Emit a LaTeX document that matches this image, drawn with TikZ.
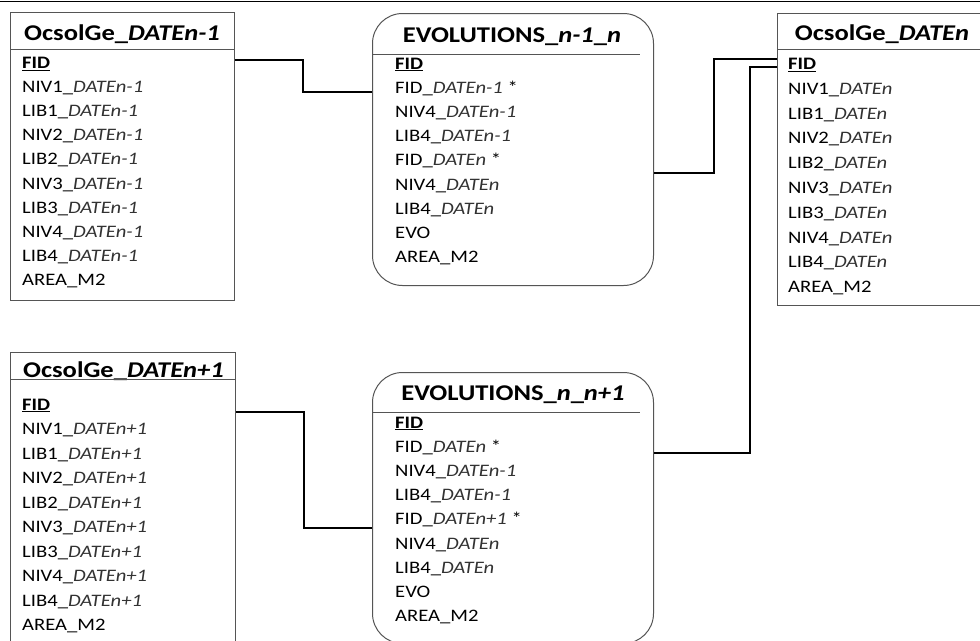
\documentclass[tikz,border=0pt]{standalone}
\usepackage{fontspec}
\setmainfont{Carlito}[FakeStretch=1.18]
\usepackage{xcolor}
\definecolor{tabgray}{RGB}{85,85,85}
\definecolor{txtgray}{RGB}{50,50,50}
\newcommand{\dat}[1]{{\color{txtgray}\itshape #1}}
\newcommand{\fid}{\underline{\textbf{FID}}}
\tikzset{
  % tabelle
  tbl/.style={draw=tabgray,line width=1pt,rectangle,anchor=north west,inner sep=0},
  evo box/.style={tbl,rounded corners=30pt},
  tbl rule/.style={draw=tabgray,line width=1pt},
  tbl title/.style={font=\fontsize{22.5}{27}\selectfont\bfseries,anchor=base,inner sep=0},
  field/.style={font=\fontsize{17.5}{24}\selectfont,anchor=base west,inner sep=0,text=black},
  % collegamenti
  link/.style={line width=1.8pt,black}
}
\begin{document}
\begin{tikzpicture}[x=1pt,y=-1pt]
  \useasboundingbox (0,0) rectangle (980,640);
  \clip (0,0) rectangle (980,640);
  \fill[white] (0,0) rectangle (980,640);
  \draw[line width=1.2pt] (0,1.5) -- (980,1.5);

  \node[tbl,minimum width=224,minimum height=288] (tA) at (10,12) {};
  \node[tbl title] (hA) at (122,40) {OcsolGe\_\textit{DATEn-1}};
  \draw[tbl rule] ([yshift=-37]tA.north west) -- ([yshift=-37]tA.north east);
  \foreach \t [count=\i from 0] in {\fid, NIV1\_\dat{DATEn-1}, LIB1\_\dat{DATEn-1},
      NIV2\_\dat{DATEn-1}, LIB2\_\dat{DATEn-1}, NIV3\_\dat{DATEn-1}, LIB3\_\dat{DATEn-1},
      NIV4\_\dat{DATEn-1}, LIB4\_\dat{DATEn-1}, AREA\_M2}
    \node[field] (fA\i) at (22,{68.5+24.1*\i}) {\t};

  \node[tbl,minimum width=225,minimum height=289] (tB) at (10,352) {};
  \node[tbl title] (hB) at (123.5,377) {OcsolGe\_\textit{DATEn+1}};
  \draw[tbl rule] ([yshift=-27]tB.north west) -- ([yshift=-27]tB.north east);
  \foreach \t [count=\i from 0] in {\fid, NIV1\_\dat{DATEn+1}, LIB1\_\dat{DATEn+1},
      NIV2\_\dat{DATEn+1}, LIB2\_\dat{DATEn+1}, NIV3\_\dat{DATEn+1}, LIB3\_\dat{DATEn+1},
      NIV4\_\dat{DATEn+1}, LIB4\_\dat{DATEn+1}, AREA\_M2}
    \node[field] (fB\i) at (22,{410+24.5*\i}) {\t};

  \node[tbl,minimum width=210,minimum height=292] (tC) at (777,13) {};
  \node[tbl title] (hC) at (882,40) {OcsolGe\_\textit{DATEn}};
  \draw[tbl rule] ([yshift=-36]tC.north west) -- ([yshift=-36]tC.north east);
  \foreach \t [count=\i from 0] in {\fid, NIV1\_\dat{DATEn}, LIB1\_\dat{DATEn},
      NIV2\_\dat{DATEn}, LIB2\_\dat{DATEn}, NIV3\_\dat{DATEn}, LIB3\_\dat{DATEn},
      NIV4\_\dat{DATEn}, LIB4\_\dat{DATEn}, AREA\_M2}
    \node[field] (fC\i) at (788,{69.5+24.8*\i}) {\t};

  \node[evo box,minimum width=281,minimum height=272] (evA) at (372,13) {};
  \node[tbl title] (heA) at (512,42) {EVOLUTIONS\_\textit{n-1}\_\textit{n}};
  \draw[tbl rule] ([yshift=-41]evA.north west) -- ++(268,0);
  \foreach \t [count=\i from 0] in {\fid, FID\_\dat{DATEn-1} *, NIV4\_\dat{DATEn-1},
      LIB4\_\dat{DATEn-1}, FID\_\dat{DATEn} *, NIV4\_\dat{DATEn}, LIB4\_\dat{DATEn},
      EVO, AREA\_M2}
    \node[field] (eA\i) at (395,{69+24.2*\i}) {\t};

  \node[evo box,minimum width=281,minimum height=271] (evB) at (372,372) {};
  \node[tbl title] (heB) at (513,400) {EVOLUTIONS\_\textit{n}\_\textit{n+1}};
  \draw[tbl rule] ([yshift=-40]evB.north west) -- ++(268,0);
  \foreach \t [count=\i from 0] in {\fid, FID\_\dat{DATEn} *, NIV4\_\dat{DATEn-1},
      LIB4\_\dat{DATEn-1}, FID\_\dat{DATEn+1} *, NIV4\_\dat{DATEn}, LIB4\_\dat{DATEn},
      EVO, AREA\_M2}
    \node[field] (eB\i) at (395,{428+24.2*\i}) {\t};

  \draw[link] ([yshift=-48]tA.north east) -- ++(68,0) |- ([yshift=-79]evA.north west);
  \draw[link] ([yshift=-160]evA.north east) -- ++(60,0) |- ([yshift=-46]tC.north west);
  \draw[link] ([yshift=-54]tC.north west) -- ++(-27,0) |- ([yshift=-81]evB.north east);
  \draw[link] ([yshift=-60]tB.north east) -- ++(68,0) |- ([yshift=-156]evB.north west);
\end{tikzpicture}
\end{document}
